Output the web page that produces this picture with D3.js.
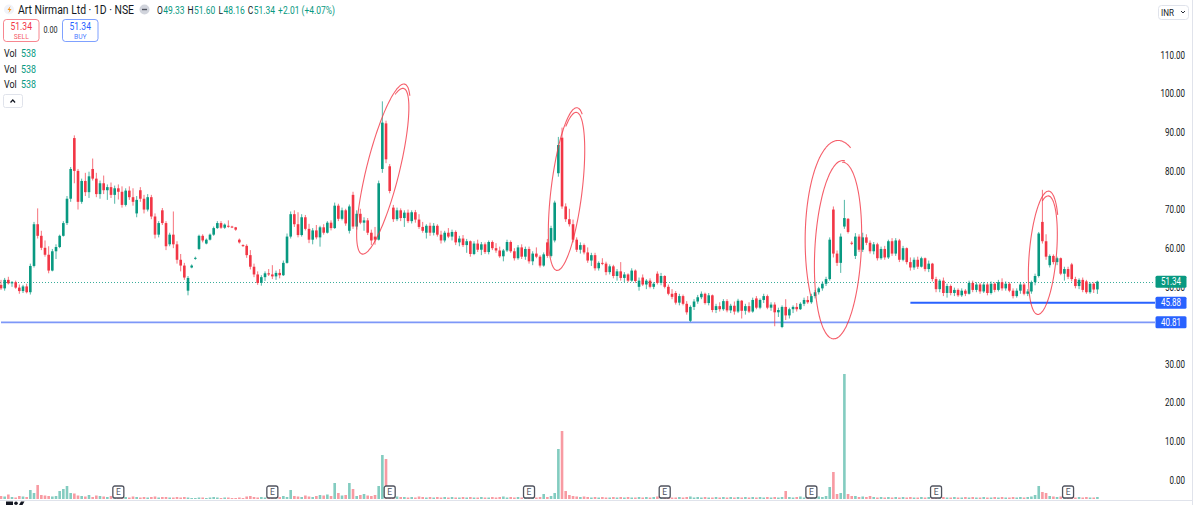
<!DOCTYPE html>
<html>
<head>
<meta charset="utf-8">
<script src="https://cdn.jsdelivr.net/npm/d3@7"></script>
<style>
  html, body { margin: 0; padding: 0; background: #fff; overflow: hidden; }
  svg { display: block; font-family: Roboto, "Noto Sans", sans-serif; }
</style>
</head>
<body>
<script>
// daily candles, [open, high, low, close]
var ohlc = [
  [50.5,51.8,49.2,49.6],[49.6,52.3,49.0,51.8],[51.8,52.6,50.6,50.9],[50.9,51.5,50.0,51.2],[51.2,51.6,49.5,49.8],
  [49.8,50.6,48.2,48.9],[48.9,50.5,48.4,50.1],[50.1,50.8,48.3,48.6],[48.6,56.0,48.0,55.4],[55.4,66.8,55.0,66.2],
  [66.2,70.3,62.5,63.2],[63.2,64.5,59.5,60.1],[60.1,62.0,57.8,58.3],[58.3,60.5,53.5,54.2],[54.2,59.8,54.0,59.2],
  [59.2,61.0,57.2,60.3],[60.3,63.5,60.0,63.2],[63.2,67.0,63.0,66.5],[66.5,73.5,66.0,72.8],[72.8,81.0,72.0,80.5],
  [88.5,89.2,76.8,80.0],[80.0,80.5,70.0,72.0],[72.0,78.0,71.5,77.4],[77.4,79.5,73.5,74.5],[74.5,79.8,73.0,78.6],
  [80.5,83.2,77.5,78.0],[78.0,79.5,73.2,74.0],[74.0,77.5,72.8,76.8],[76.8,78.8,74.0,75.0],[75.0,76.5,72.5,75.8],
  [75.8,77.0,73.0,73.8],[73.8,76.2,71.5,75.5],[75.5,76.5,72.6,74.6],[74.6,76.0,70.5,71.2],[71.2,75.5,70.8,74.9],
  [74.9,76.0,72.5,73.2],[73.2,75.5,71.0,72.0],[69.0,73.5,68.0,72.5],[75.0,75.8,72.0,72.8],[72.8,73.8,69.0,70.0],
  [70.0,74.0,69.5,73.2],[73.2,73.8,67.5,68.2],[68.2,69.0,62.5,63.5],[63.5,67.0,62.8,66.5],[69.8,70.4,66.0,66.5],
  [66.5,67.0,59.5,60.5],[61.0,64.0,60.5,63.5],[63.5,69.5,60.0,61.0],[61.0,61.8,56.0,57.0],[57.0,58.5,54.0,55.5],
  [55.5,56.2,51.8,52.4],[49.0,52.8,47.8,52.3],[55.0,55.8,54.8,55.5],[57.3,57.8,57.0,57.5],[59.8,63.5,59.5,63.2],
  [63.2,63.6,61.5,62.0],[61.2,62.5,61.0,62.2],[62.2,63.8,62.0,63.5],[63.5,65.6,63.2,65.2],[65.2,67.0,65.0,66.5],
  [66.5,67.0,65.0,65.3],[65.3,66.4,65.0,66.1],[65.8,67.2,65.3,65.6],[65.6,65.8,65.2,65.4],[65.4,65.5,64.5,64.8],
  [62.2,62.5,61.2,61.5],[60.8,61.0,60.3,60.6],[60.6,61.0,57.5,58.2],[58.2,59.5,54.5,55.2],[55.2,56.0,52.5,53.2],
  [53.2,54.0,50.5,51.0],[51.0,53.0,50.3,52.5],[52.5,54.0,51.5,53.5],[53.5,54.6,52.8,53.2],[53.2,55.6,52.0,52.7],
  [52.7,54.2,51.8,53.6],[53.6,54.6,52.2,53.0],[53.0,56.8,52.8,56.2],[56.2,63.8,56.0,63.0],[63.0,69.5,62.5,68.8],
  [68.8,69.8,65.5,66.2],[66.2,69.3,62.8,63.4],[63.4,68.8,63.0,68.0],[68.0,68.6,64.6,65.0],[65.0,66.3,61.3,62.2],
  [62.2,65.2,61.0,64.6],[64.6,66.0,62.3,62.8],[62.8,65.8,60.4,65.4],[65.4,66.2,63.5,64.0],[64.0,67.0,63.8,66.6],
  [66.6,67.2,64.6,65.2],[65.2,71.8,65.0,71.0],[71.0,71.5,67.0,67.6],[67.6,70.5,67.2,69.8],[69.8,70.2,65.8,66.4],
  [64.5,71.3,63.8,70.8],[73.8,74.6,65.0,65.6],[65.6,69.8,64.8,68.9],[68.9,70.2,66.2,66.6],[66.6,68.0,64.5,67.2],
  [67.2,67.8,63.4,64.0],[64.0,64.8,60.8,62.0],[63.0,65.5,60.9,62.2],[62.2,77.5,62.0,76.8],[80.5,98.0,79.5,92.5],
  [92.3,93.0,82.0,83.0],[81.2,81.8,74.2,74.8],[70.5,71.2,66.8,67.5],[67.5,70.5,67.0,69.8],[69.8,70.3,67.0,67.8],
  [67.8,69.8,65.5,69.2],[69.2,70.0,66.5,67.0],[67.0,69.8,66.4,69.3],[69.3,69.9,66.6,67.4],[67.4,68.8,65.0,65.5],
  [65.5,66.8,64.0,64.5],[64.0,66.2,62.5,65.8],[65.8,66.6,63.2,64.0],[64.0,66.5,63.3,65.8],[65.8,66.2,63.0,63.5],
  [63.5,64.5,61.2,62.0],[62.0,64.5,61.5,64.0],[64.0,65.2,62.6,63.0],[63.0,64.8,62.0,64.2],[64.2,64.6,60.8,61.5],
  [61.5,63.2,60.5,62.5],[62.5,63.4,60.3,60.8],[60.8,62.4,58.8,61.8],[61.8,62.0,57.8,58.5],[58.5,61.8,58.2,61.2],
  [61.2,62.2,59.0,59.6],[59.6,61.6,58.2,61.0],[61.0,61.5,58.5,59.0],[59.0,62.0,58.4,61.6],[61.6,62.0,59.5,60.0],
  [60.0,61.3,58.8,59.4],[59.4,60.4,57.5,57.9],[57.9,59.8,56.6,59.4],[59.4,62.2,59.0,61.6],[61.6,62.0,58.8,59.2],
  [59.2,60.0,56.8,57.4],[57.4,60.8,57.0,60.2],[60.2,61.0,57.2,57.8],[57.8,60.4,57.0,59.8],[59.8,60.4,56.0,56.6],
  [56.6,59.2,55.6,58.6],[58.6,60.2,57.4,57.8],[57.8,58.2,55.0,55.5],[55.5,58.9,55.2,58.4],[61.5,62.4,57.5,58.0],
  [58.0,65.8,57.6,65.2],[62.0,72.3,61.5,71.8],[79.4,88.8,78.5,86.7],[88.6,91.2,70.2,70.8],[70.8,71.6,66.8,67.5],
  [67.5,70.2,65.6,66.2],[66.2,67.4,61.5,62.2],[62.2,62.8,59.0,59.6],[59.6,61.5,58.6,60.8],[60.8,61.2,58.4,58.9],
  [58.9,60.2,56.2,56.8],[56.8,58.8,55.4,58.2],[58.2,58.8,54.2,54.8],[54.8,56.6,54.2,56.2],[56.2,57.4,55.6,56.0],
  [56.0,56.5,53.0,53.8],[53.8,55.8,53.2,55.3],[55.3,55.7,52.2,52.8],[52.8,54.6,51.6,54.0],[54.0,56.4,51.6,52.3],
  [52.3,53.8,51.2,53.2],[53.2,53.5,51.2,51.6],[51.6,54.8,51.3,54.2],[54.2,54.5,51.0,51.5],[50.0,52.4,49.0,51.6],
  [52.4,53.2,50.2,50.6],[50.6,52.0,49.4,51.6],[51.6,52.2,49.6,50.0],[50.0,51.2,49.4,50.8],[53.4,54.0,50.6,51.0],
  [51.0,53.6,50.4,52.8],[52.8,53.0,49.6,50.0],[50.0,50.6,47.8,48.2],[48.2,49.4,46.8,47.4],[48.4,48.9,45.4,45.9],
  [45.9,48.2,45.2,47.6],[47.6,48.0,45.2,45.6],[45.6,46.3,42.8,43.4],[41.2,45.2,40.9,44.8],[44.8,46.8,44.0,46.2],
  [46.2,47.9,45.6,47.3],[47.3,48.8,46.8,48.2],[48.2,48.5,45.4,45.8],[45.8,48.4,45.2,47.8],[47.8,48.0,43.4,44.0],
  [44.0,45.6,43.2,45.0],[45.0,46.0,43.6,44.2],[44.2,46.8,43.8,46.3],[46.3,46.8,43.4,43.9],[43.9,45.6,43.2,45.1],
  [45.1,46.2,42.8,43.6],[43.6,46.9,43.2,46.4],[46.4,46.6,41.8,43.8],[43.8,45.6,42.8,45.0],[45.0,46.0,43.2,43.6],
  [43.6,47.2,43.3,46.6],[47.0,47.6,44.2,44.6],[44.6,47.0,44.2,46.6],[46.6,48.2,45.8,47.6],[47.6,48.0,44.2,44.6],
  [44.6,46.0,43.8,45.4],[45.4,46.0,39.8,43.4],[43.4,44.6,42.2,44.0],[39.6,45.2,39.3,44.8],[44.8,46.8,41.4,42.6],
  [42.6,44.6,41.8,44.2],[44.2,45.2,43.2,44.8],[44.8,45.8,43.6,44.2],[44.2,46.0,44.0,45.6],[45.6,47.2,45.0,46.6],
  [46.6,47.6,45.6,46.0],[46.0,48.2,45.6,47.6],[47.6,49.2,47.0,48.6],[48.6,50.0,48.0,49.6],[49.6,51.4,49.0,50.8],
  [50.8,52.6,50.2,52.0],[52.0,62.8,51.6,62.2],[70.0,70.8,57.6,58.6],[58.6,59.4,55.4,56.2],[56.2,63.8,53.6,63.0],
  [65.6,72.5,65.0,67.8],[67.6,67.8,63.8,64.2],[61.4,61.8,60.8,61.2],[58.0,63.9,57.2,63.0],[63.0,63.6,59.0,59.6],
  [59.6,64.0,59.0,62.8],[62.8,63.6,60.8,61.4],[61.4,62.0,58.6,59.2],[59.2,61.6,58.4,61.0],[61.0,61.4,56.8,57.4],
  [57.4,60.4,57.0,59.8],[59.8,60.6,57.0,57.6],[57.6,62.2,57.2,61.8],[61.8,62.6,58.0,58.6],[58.6,62.6,58.0,62.0],
  [62.0,62.4,56.4,57.0],[57.0,60.6,56.6,60.0],[60.0,60.2,55.8,56.4],[56.4,57.6,54.2,55.0],[55.0,57.6,54.4,57.0],
  [57.0,57.8,54.6,55.2],[55.2,57.8,55.0,57.4],[57.4,57.6,54.0,54.6],[54.6,56.8,53.8,56.0],[56.0,56.2,51.4,52.0],
  [52.0,52.6,48.6,49.4],[49.4,52.0,48.6,51.6],[51.6,52.4,47.6,48.4],[48.4,50.8,47.2,50.2],[50.2,50.6,47.8,48.4],
  [48.4,49.8,47.6,49.2],[49.2,49.6,47.4,47.8],[47.8,49.6,47.4,49.0],[49.0,49.4,47.6,48.2],[48.2,51.6,48.0,51.0],
  [51.0,51.6,48.6,49.2],[49.2,51.2,48.6,50.6],[50.6,51.0,48.2,48.8],[48.8,51.2,48.4,50.6],[50.6,51.0,47.8,48.4],
  [48.4,51.4,48.0,50.8],[50.8,51.2,48.6,49.2],[49.2,51.8,48.8,51.2],[51.2,52.2,49.0,49.6],[49.6,51.4,49.0,50.8],
  [50.8,51.2,48.6,49.0],[49.0,49.6,47.0,47.6],[47.6,49.6,47.2,49.0],[49.0,51.2,48.2,50.6],[50.6,51.0,47.8,48.2],
  [48.2,49.4,47.6,48.8],[48.8,51.6,48.2,51.2],[51.2,53.4,50.4,52.8],[52.8,64.2,52.4,63.8],[66.8,75.1,61.2,61.8],
  [61.8,63.6,57.0,57.8],[55.6,58.4,55.0,58.0],[58.0,58.4,55.8,56.4],[56.4,57.8,55.6,57.4],[57.4,57.6,53.0,53.4],
  [53.4,55.2,51.6,54.6],[54.6,55.2,52.0,52.6],[55.8,56.2,51.4,52.0],[52.0,52.6,49.6,50.2],[50.2,52.2,49.4,51.8],
  [51.8,52.4,48.6,49.2],[51.4,51.8,48.2,48.6],[48.6,51.2,48.2,50.8],[50.8,51.2,48.4,49.3],[49.33,51.60,48.16,51.34]
];

// volume, thousands of shares
var volume = [
  30,25,45,20,15,30,25,20,90,60, 140,40,35,30,25,30,80,100,130,60,
  55,35,30,25,40,20,35,30,25,20, 30,25,20,15,20,15,25,20,15,20,
  15,20,25,15,20,20,15,15,20,15, 20,15,10,10,15,15,10,15,20,15,
  10,15,15,10,10,15,10,25,30,20, 15,20,15,20,25,15,20,30,20,90,
  30,25,20,35,25,20,30,40,35,45, 30,160,60,35,40,160,100,30,40,50,
  35,30,40,130,440,400,60,30,25,20, 20,15,20,15,25,20,15,20,15,20,
  15,20,15,20,15,15,20,15,20,15, 15,20,15,15,20,15,20,25,15,20,
  15,20,15,20,15,20,15,20,50,20, 30,60,500,680,80,40,30,25,20,25,
  20,15,20,15,20,15,15,20,15,20, 15,20,15,15,20,15,20,15,20,25,
  20,15,20,15,15,20,15,20,25,15, 20,15,20,15,15,20,15,20,15,20,
  15,20,15,20,15,20,15,20,15,20, 15,20,15,20,80,20,15,20,25,15,
  20,25,30,25,20,30,120,270,50,60, 1250,50,30,30,20,25,20,30,20,15,
  20,15,20,15,20,15,20,15,20,15, 15,20,15,20,15,20,15,20,15,15,
  20,15,15,20,15,20,15,15,20,15, 15,20,15,20,15,15,20,15,20,15,
  20,25,40,130,70,60,30,25,20,25, 20,15,20,15,20,15,20,15,15,20
];

var priceTicks = [0, 10, 20, 30, 40, 50, 60, 70, 80, 90, 100, 110];
var earningsAt = [32, 74, 106, 144, 181, 221, 255, 291];   // candle index of "E" flags
var lastPrice = 51.34;
var hLevels = [45.88, 40.81];
var hLevelFrom = [248, 0];   // candle index where each drawn line starts

var W = 1200, H = 505;
var UP = "#089981", DOWN = "#f23645", BLUE = "#2962ff", TEXT = "#131722";

var svg = d3.select("body").append("svg").attr("width", W).attr("height", H);

var x = d3.scaleLinear().domain([0, ohlc.length - 1]).range([1, 1097.4]);
var y = d3.scaleLinear().domain([0, 110]).range([480, 55]);
var yv = d3.scaleLinear().domain([0, d3.max(volume)]).range([499, 374]);
var plotRight = 1155;
var bw = 2.6;

function squeeze(sel, k) {
  sel.each(function () {
    var l = this.getComputedTextLength();
    this.setAttribute("textLength", l * k);
    this.setAttribute("lengthAdjust", "spacingAndGlyphs");
  });
}

// borders
svg.append("line").attr("x1", 0).attr("x2", 1192).attr("y1", 500.5).attr("y2", 500.5)
  .attr("stroke", "#e0e3eb");
svg.append("line").attr("x1", 1192.5).attr("x2", 1192.5).attr("y1", 0).attr("y2", H)
  .attr("stroke", "#e0e3eb");

// volume
svg.append("g").selectAll("rect").data(volume).join("rect")
  .attr("x", function (d, i) { return x(i) - bw / 2; })
  .attr("y", function (d) { return yv(d); })
  .attr("width", bw)
  .attr("height", function (d) { return Math.max(1, yv(0) - yv(d)); })
  .attr("fill", function (d, i) { return ohlc[i][3] >= ohlc[i][0] ? UP : DOWN; })
  .attr("fill-opacity", 0.5);

// horizontal drawings
svg.append("line")
  .attr("x1", x(hLevelFrom[1])).attr("x2", plotRight)
  .attr("y1", y(hLevels[1])).attr("y2", y(hLevels[1]))
  .attr("stroke", "#7d97f8").attr("stroke-width", 1.6);
svg.append("line")
  .attr("x1", x(hLevelFrom[0])).attr("x2", plotRight)
  .attr("y1", y(hLevels[0])).attr("y2", y(hLevels[0]))
  .attr("stroke", BLUE).attr("stroke-width", 2.2);
svg.append("line")
  .attr("x1", 0).attr("x2", plotRight)
  .attr("y1", Math.round(y(lastPrice)) + 0.5).attr("y2", Math.round(y(lastPrice)) + 0.5)
  .attr("stroke", UP).attr("stroke-dasharray", "1,2").attr("stroke-opacity", 0.8);

// candles
var cg = svg.append("g").selectAll("g").data(ohlc).join("g");
cg.append("line")
  .attr("x1", function (d, i) { return x(i); })
  .attr("x2", function (d, i) { return x(i); })
  .attr("y1", function (d) { return y(d[1]); })
  .attr("y2", function (d) { return y(d[2]); })
  .attr("stroke", function (d) { return d[3] >= d[0] ? UP : DOWN; })
  .attr("stroke-opacity", 0.7);
cg.append("rect")
  .attr("x", function (d, i) { return x(i) - bw / 2; })
  .attr("y", function (d) { return y(Math.max(d[0], d[3])); })
  .attr("width", bw)
  .attr("height", function (d) { return Math.max(1, Math.abs(y(d[0]) - y(d[3]))); })
  .attr("fill", function (d) { return d[3] >= d[0] ? UP : DOWN; });

// hand drawn loops around the spikes (centre in candle index / price)
var loops = [
  { i: 104.2, p: 80.2, a: 16, b: 84, rot: 14, t0: -2.0, sweep: 7.2, grow: 0.06 },
  { i: 154.3, p: 75.0, a: 15, b: 78, rot: 7, t0: -2.2, sweep: 7.3, grow: 0.07 },
  { i: 228.3, p: 59.5, a: 23, b: 88, rot: 3, t0: -1.6, sweep: 6.4, grow: 0.02 },
  { i: 228.3, p: 62.0, a: 33, b: 100, rot: 0, t0: 2.55, sweep: 2.55, grow: 0 },
  { i: 284.2, p: 58.5, a: 13, b: 58, rot: 5, t0: -2.0, sweep: 7.6, grow: 0.1 }
];
var loopLine = d3.line().curve(d3.curveBasis);
svg.append("g").selectAll("path").data(loops).join("path")
  .attr("d", function (l) {
    var cx = x(l.i), cy = y(l.p), r = l.rot * Math.PI / 180, pts = [];
    for (var k = 0; k <= 120; k++) {
      var t = l.t0 + l.sweep * k / 120, s = 1 + l.grow * k / 120;
      var px = l.a * s * Math.cos(t), py = l.b * s * Math.sin(t);
      pts.push([cx + px * Math.cos(r) - py * Math.sin(r), cy + px * Math.sin(r) + py * Math.cos(r)]);
    }
    return loopLine(pts);
  })
  .attr("fill", "none").attr("stroke", DOWN).attr("stroke-opacity", 0.8).attr("stroke-width", 1.1);

// earnings flags
var eg = svg.append("g").selectAll("g").data(earningsAt).join("g")
  .attr("transform", function (d) { return "translate(" + x(d) + "," + (yv(0) - 13) + ")"; });
eg.append("rect").attr("x", -5.5).attr("y", 0).attr("width", 11).attr("height", 12).attr("rx", 2)
  .attr("fill", "#fff").attr("stroke", "#50535e").attr("stroke-width", 1.3);
eg.append("text").attr("y", 9.2).attr("text-anchor", "middle").attr("font-size", 8.5)
  .attr("fill", "#50535e").text("E");

// axis price labels (ticks sitting right under a label are hidden, as on the platform)
var tags = [[lastPrice, UP], [hLevels[0], BLUE], [hLevels[1], BLUE]];
var shownTicks = priceTicks.filter(function (v) {
  return tags.every(function (t) { return Math.abs(y(v) - y(t[0])) > 5; });
});

// price axis
var ax = svg.append("g").attr("transform", "translate(1185,0)")
  .call(d3.axisRight(y).tickValues(shownTicks).tickFormat(d3.format(".2f")).tickSize(0));
ax.select(".domain").remove();
ax.selectAll("text").attr("x", 0).attr("text-anchor", "end").attr("font-size", 10)
  .attr("font-family", "Roboto, sans-serif").attr("fill", TEXT);
squeeze(ax.selectAll("text"), 0.8);

var tg = svg.append("g").selectAll("g").data(tags).join("g")
  .attr("transform", function (d) { return "translate(1171," + y(d[0]) + ")"; });
tg.append("rect").attr("x", -15.5).attr("y", -6).attr("width", 31).attr("height", 12).attr("rx", 1.5)
  .attr("fill", function (d) { return d[1]; });
tg.append("text").attr("y", 3.6).attr("text-anchor", "middle").attr("font-size", 10).attr("fill", "#fff")
  .text(function (d) { return d3.format(".2f")(d[0]); });
squeeze(tg.selectAll("text"), 0.8);

// INR selector
svg.append("rect").attr("x", 1158.5).attr("y", 5.5).attr("width", 30).attr("height", 14).attr("rx", 3)
  .attr("fill", "#fff").attr("stroke", "#e0e3eb");
var inr = svg.append("text").attr("x", 1161).attr("y", 15.5).attr("font-size", 9.5).attr("fill", TEXT).text("INR");
squeeze(inr, 0.85);
svg.append("path").attr("d", "M1181,11 L1183,13 L1185,11").attr("fill", "none")
  .attr("stroke", TEXT).attr("stroke-width", 0.9);

// legend header
svg.append("circle").attr("cx", 9).attr("cy", 9.5).attr("r", 5).attr("fill", "#f0f3fa");
svg.append("path").attr("d", "M10.5,6 L7.5,10 L9.5,10 L8.5,13 L11.5,9 L9.5,9 Z").attr("fill", "#f7931a");
var title = svg.append("text").attr("x", 18).attr("y", 13.5).attr("font-size", 12).attr("fill", TEXT)
  .text("Art Nirman Ltd \u00b7 1D \u00b7 NSE");
title.attr("textLength", 116).attr("lengthAdjust", "spacingAndGlyphs");
svg.append("circle").attr("cx", 144.5).attr("cy", 9.5).attr("r", 5).attr("fill", "#d1d4dc");
svg.append("line").attr("x1", 142).attr("x2", 147).attr("y1", 9.5).attr("y2", 9.5)
  .attr("stroke", "#50535e").attr("stroke-width", 1.4);

// O/H/L/C values: laid out at natural width, then the group is narrowed to 178px
var legendParts = [["O", TEXT], ["49.33", UP], ["H", TEXT], ["51.60", UP], ["L", TEXT], ["48.16", UP],
  ["C", TEXT], ["51.34", UP], ["+2.01 (+4.07%)", UP]];
var gaps = [0, 0.5, 4, 0.5, 4, 0.5, 4, 0.5, 4];
var lg = svg.append("g");
var parts = lg.selectAll("text").data(legendParts).join("text")
  .attr("y", 0).attr("font-size", 11).attr("fill", function (d) { return d[1]; })
  .text(function (d) { return d[0]; });
var run = 0;
parts.each(function (d, i) {
  run += gaps[i];
  this.setAttribute("x", run);
  run += this.getComputedTextLength();
});
lg.attr("transform", "translate(157,13.5) scale(" + (178 / run) + ",1)");

// sell / buy buttons
function button(x0, color, label) {
  svg.append("rect").attr("x", x0).attr("y", 19.5).attr("width", 35.5).attr("height", 22).attr("rx", 3)
    .attr("fill", "#fff").attr("stroke", color).attr("stroke-opacity", 0.6);
  var t1 = svg.append("text").attr("x", x0 + 17.75).attr("y", 29.5).attr("text-anchor", "middle")
    .attr("font-size", 10).attr("fill", color).text("51.34");
  var t2 = svg.append("text").attr("x", x0 + 17.75).attr("y", 38.5).attr("text-anchor", "middle")
    .attr("font-size", 7.5).attr("fill", color).attr("fill-opacity", 0.85).text(label);
  squeeze(t1, 0.85); squeeze(t2, 0.9);
}
button(3.5, DOWN, "SELL");
button(62.5, BLUE, "BUY");
var spread = svg.append("text").attr("x", 50.5).attr("y", 33).attr("text-anchor", "middle")
  .attr("font-size", 8.5).attr("fill", TEXT).text("0.00");
squeeze(spread, 0.85);

// volume legends
[56.5, 72.5, 88].forEach(function (yy) {
  var a = svg.append("text").attr("x", 4).attr("y", yy).attr("font-size", 10.5).attr("fill", TEXT).text("Vol");
  var b = svg.append("text").attr("x", 21).attr("y", yy).attr("font-size", 10.5).attr("fill", UP).text("538");
  squeeze(a, 0.85); squeeze(b, 0.85);
});
svg.append("rect").attr("x", 3.5).attr("y", 94.5).attr("width", 19).attr("height", 13).attr("rx", 2)
  .attr("fill", "#fff").attr("stroke", "#e0e3eb");
svg.append("path").attr("d", "M10.5,102.5 L12.8,100 L15.1,102.5").attr("fill", "none")
  .attr("stroke", TEXT).attr("stroke-width", 1.2);

// logo stub at the bottom
svg.append("rect").attr("x", 6).attr("y", 501.5).attr("width", 7).attr("height", 3.5).attr("fill", TEXT);
svg.append("circle").attr("cx", 16).attr("cy", 503.2).attr("r", 1.8).attr("fill", TEXT);
svg.append("path").attr("d", "M19,505 L21,501.5 L24.5,501.5 L22.5,505 Z").attr("fill", TEXT);
</script>
</body>
</html>
